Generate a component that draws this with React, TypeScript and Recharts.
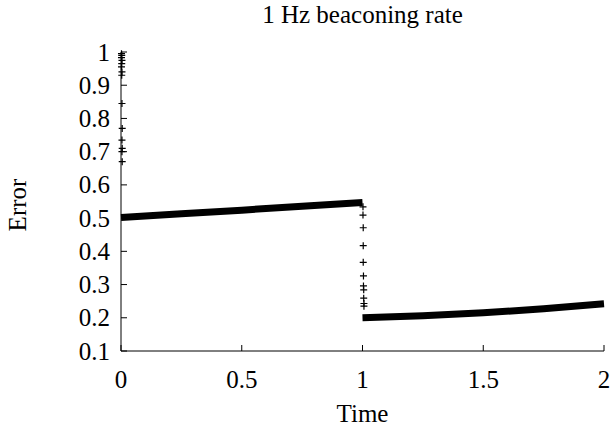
import { Scatter, ScatterChart, XAxis, YAxis } from 'recharts';

// error over time, two phases split at t = 1
const rampTime = [0, 0.25, 0.5, 0.75, 1.0];
const rampError = [0.502, 0.513, 0.524, 0.536, 0.547];

const recoveryTime = [1.0, 1.25, 1.5, 1.75, 2.0];
const recoveryError = [0.2, 0.206, 0.215, 0.227, 0.242];

// transient samples right after start
const startTime = [0.002, 0.003, 0.002, 0.004, 0.003, 0.002, 0.004, 0.003, 0.004, 0.005, 0.004, 0.005, 0.004, 0.005];
const startError = [0.995, 0.99, 0.983, 0.975, 0.965, 0.955, 0.94, 0.93, 0.845, 0.77, 0.735, 0.71, 0.7, 0.67];

// transient samples at the rate switch
const switchTime = [1.002, 1.002, 1.003, 1.003, 1.003, 1.004, 1.004, 1.005, 1.005, 1.006, 1.006];
const switchError = [0.534, 0.509, 0.471, 0.417, 0.367, 0.326, 0.296, 0.284, 0.259, 0.243, 0.235];

const xTicks = [0, 0.5, 1, 1.5, 2];
const yTicks = [0.1, 0.2, 0.3, 0.4, 0.5, 0.6, 0.7, 0.8, 0.9, 1];

const toPoints = (xs: number[], ys: number[]) => xs.map((x, i) => ({ x, y: ys[i] }));

const FONT = "'Liberation Serif', 'Times New Roman', serif";
const FS = 25;

function Cross(props: any) {
  const { cx, cy } = props;
  if (cx == null || cy == null) return <g />;
  const r = 3.5;
  return (
    <path
      d={`M${cx - r},${cy}H${cx + r}M${cx},${cy - r}V${cy + r}`}
      stroke="#000"
      strokeWidth={1.2}
      fill="none"
    />
  );
}

const NoDot = () => <g />;

function AxisTick(props: any) {
  const { x, y, payload, side } = props;
  const isBottom = side === 'bottom';
  const label = isBottom ? String(payload.value) : String(Math.round(payload.value * 10) / 10);
  return (
    <text
      x={x}
      y={y}
      dy={isBottom ? '0.71em' : '0.34em'}
      textAnchor={isBottom ? 'middle' : 'end'}
      fontFamily={FONT}
      fontSize={FS}
      fill="#000"
    >
      {label}
    </text>
  );
}

export default function App() {
  const W = 613;
  const H = 427;
  const top = 52;
  const bottom = 351;
  const textBox = {
    position: 'absolute' as const,
    fontFamily: FONT,
    fontSize: FS,
    lineHeight: '28px',
    whiteSpace: 'nowrap' as const,
  };

  return (
    <div
      style={{
        position: 'absolute',
        left: 0,
        top: 0,
        width: W,
        height: H,
        background: '#fff',
        fontFamily: FONT,
      }}
    >
      <ScatterChart width={W} height={H} margin={{ top, right: 9, bottom: 0, left: 0 }}>
        <XAxis
          xAxisId="bottom"
          type="number"
          dataKey="x"
          domain={[0, 2]}
          ticks={xTicks}
          height={H - bottom}
          tickSize={-6}
          tickMargin={25}
          stroke="#000"
          tick={(p: any) => <AxisTick {...p} side="bottom" />}
        />
        <XAxis
          xAxisId="top"
          orientation="top"
          type="number"
          domain={[0, 2]}
          ticks={xTicks}
          height={0}
          tickSize={-6}
          stroke="#000"
          tick={false}
        />
        <YAxis
          yAxisId="left"
          type="number"
          dataKey="y"
          domain={[0.1, 1]}
          ticks={yTicks}
          width={121}
          tickSize={-6}
          tickMargin={17}
          stroke="#000"
          tick={(p: any) => <AxisTick {...p} side="left" />}
        />
        <YAxis
          yAxisId="right"
          orientation="right"
          type="number"
          domain={[0.1, 1]}
          ticks={yTicks}
          width={0}
          tickSize={-6}
          stroke="#000"
          tick={false}
        />
        <Scatter
          xAxisId="bottom"
          yAxisId="left"
          data={toPoints(rampTime, rampError)}
          line={{ stroke: '#000', strokeWidth: 7 }}
          shape={NoDot}
          isAnimationActive={false}
        />
        <Scatter
          xAxisId="bottom"
          yAxisId="left"
          data={toPoints(recoveryTime, recoveryError)}
          line={{ stroke: '#000', strokeWidth: 7 }}
          shape={NoDot}
          isAnimationActive={false}
        />
        <Scatter
          xAxisId="bottom"
          yAxisId="left"
          data={toPoints(startTime, startError)}
          shape={Cross}
          isAnimationActive={false}
        />
        <Scatter
          xAxisId="bottom"
          yAxisId="left"
          data={toPoints(switchTime, switchError)}
          shape={Cross}
          isAnimationActive={false}
        />
      </ScatterChart>
      <div style={{ ...textBox, left: 0, width: 725, top: 1, textAlign: 'center' }}>
        1 Hz beaconing rate
      </div>
      <div style={{ ...textBox, left: 0, width: 725, top: 400, textAlign: 'center' }}>
        Time
      </div>
      <div
        style={{
          ...textBox,
          left: 18,
          top: 205,
          transform: 'translate(-50%, -50%) rotate(-90deg)',
        }}
      >
        Error
      </div>
    </div>
  );
}
